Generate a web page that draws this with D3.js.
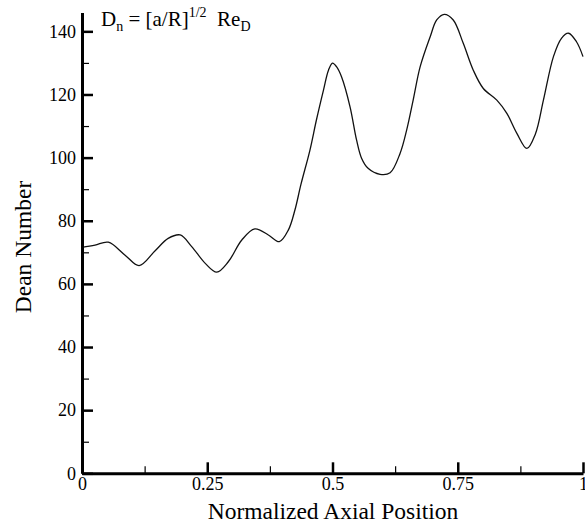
<!DOCTYPE html>
<html><head><meta charset="utf-8">
<script src="https://cdn.jsdelivr.net/npm/d3@7"></script>
<style>body{margin:0;background:#fff}svg{display:block}text{font-family:"Liberation Serif","Times New Roman",serif;fill:#000}</style>
</head><body><svg id="c" width="585" height="524"></svg>
<script>
const xs = [0, 0.026, 0.0525, 0.086, 0.114, 0.146, 0.172, 0.196, 0.219, 0.246, 0.269, 0.292, 0.319, 0.345, 0.372, 0.394, 0.412, 0.425, 0.437, 0.455, 0.468, 0.482, 0.492, 0.5, 0.508, 0.518, 0.535, 0.548, 0.558, 0.571, 0.595, 0.615, 0.635, 0.648, 0.661, 0.675, 0.695, 0.708, 0.723, 0.741, 0.761, 0.781, 0.801, 0.828, 0.848, 0.868, 0.888, 0.905, 0.921, 0.941, 0.957, 0.971, 0.987, 1.0];
const dean = [71.6, 72.3, 73.2, 69.1, 65.8, 70.5, 74.4, 75.5, 71.8, 66.5, 63.7, 67.0, 73.9, 77.4, 75.5, 73.4, 77.1, 83.4, 91.5, 102.4, 112, 121.4, 127.7, 129.9, 128.8, 125.6, 116.1, 105.6, 99.8, 96.6, 94.7, 95.2, 101.4, 108.7, 118.2, 128.8, 138.3, 143.6, 145.4, 143.6, 136.2, 127.7, 121.9, 118.2, 114, 107.7, 102.9, 107.5, 118.2, 132, 137.8, 139.4, 136.7, 132];
const xTicks = [0, 0.25, 0.5, 0.75, 1];
const xTickLabels = ["0", "0.25", "0.5", "0.75", "1"];
const yTicks = [0, 20, 40, 60, 80, 100, 120, 140];
const xMinor = [0.125, 0.375, 0.625, 0.875];
const yMinor = [10, 30, 50, 70, 90, 110, 130];

const svg = d3.select("#c");
const x = d3.scaleLinear().domain([0, 1]).range([82, 583]);
const y = d3.scaleLinear().domain([0, 146]).range([473.3, 12.4]);

// curve
const line = d3.line().x((d, i) => x(xs[i])).y(d => y(d)).curve(d3.curveCatmullRom.alpha(0.5));
svg.append("path").datum(dean).attr("d", line).attr("fill", "none").attr("stroke", "#111").attr("stroke-width", 1.3);

// axes
const xAxis = svg.append("g").attr("transform", `translate(0,${y(0)})`)
  .call(d3.axisBottom(x).tickValues(xTicks).tickFormat((d, i) => xTickLabels[i]).tickSizeInner(-11).tickSizeOuter(0).tickPadding(4));
xAxis.select(".domain").attr("stroke-width", 3);
xAxis.selectAll(".tick line").attr("stroke-width", 2.5);
xAxis.selectAll(".tick text").attr("font-size", 18).attr("font-family", "Liberation Serif");
const xMin = svg.append("g").attr("transform", `translate(0,${y(0)})`)
  .call(d3.axisBottom(x).tickValues(xMinor).tickFormat("").tickSizeInner(-7).tickSizeOuter(0));
xMin.select(".domain").remove();
xMin.selectAll(".tick line").attr("stroke-width", 1.2);

const yAxis = svg.append("g").attr("transform", `translate(${x(0)},0)`)
  .call(d3.axisLeft(y).tickValues(yTicks).tickSizeInner(-11).tickSizeOuter(0).tickPadding(6));
yAxis.select(".domain").attr("stroke-width", 3);
yAxis.selectAll(".tick line").attr("stroke-width", 2.5);
yAxis.selectAll(".tick text").attr("font-size", 18).attr("font-family", "Liberation Serif");
const yMin = svg.append("g").attr("transform", `translate(${x(0)},0)`)
  .call(d3.axisLeft(y).tickValues(yMinor).tickFormat("").tickSizeInner(-7).tickSizeOuter(0));
yMin.select(".domain").remove();
yMin.selectAll(".tick line").attr("stroke-width", 1.2);

// titles
svg.append("text").attr("x", 333).attr("y", 519).attr("text-anchor", "middle").attr("font-size", 23.5).text("Normalized Axial Position");
svg.append("text").attr("transform", "translate(31,247) rotate(-90)").attr("text-anchor", "middle").attr("font-size", 23.5).text("Dean Number");

// formula
const f = svg.append("text").attr("x", 101).attr("y", 26).attr("font-size", 21);
f.append("tspan").text("D");
f.append("tspan").attr("font-size", 14).attr("dy", 5).text("n");
f.append("tspan").attr("dy", -5).text(" = [a/R]");
f.append("tspan").attr("font-size", 14).attr("dy", -9).text("1/2");
f.append("tspan").attr("dy", 9).text("\u00a0\u00a0Re");
f.append("tspan").attr("font-size", 14).attr("dy", 5).text("D");
</script></body></html>
